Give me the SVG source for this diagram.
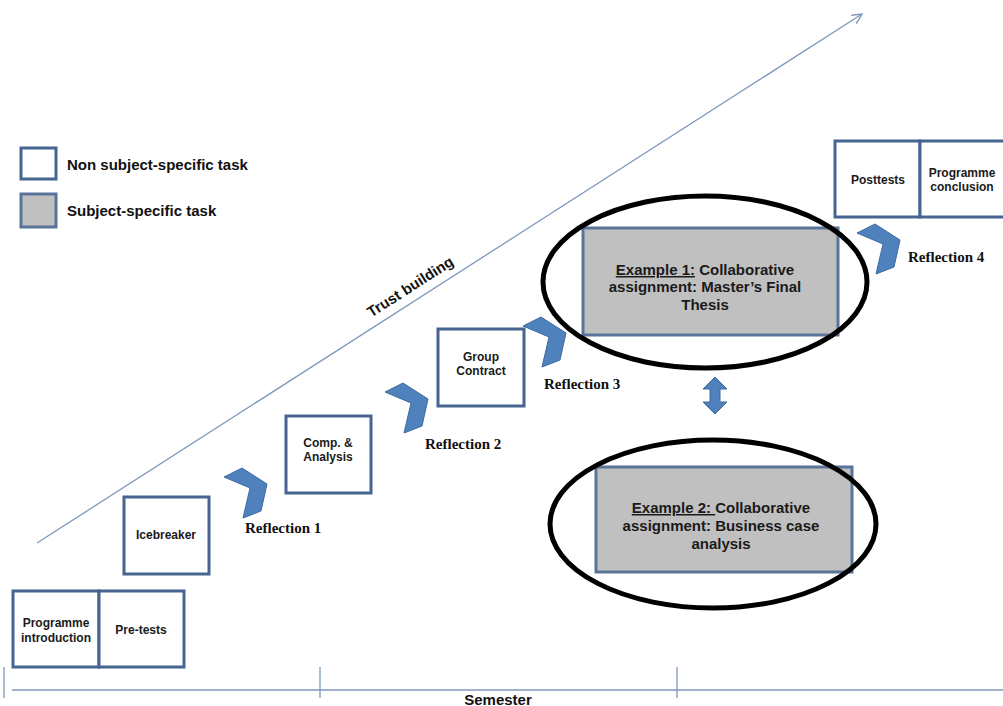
<svg xmlns="http://www.w3.org/2000/svg" width="1003" height="706" viewBox="0 0 1003 706">
<style>
.box{fill:#fff;stroke:#45648f;stroke-width:3}
.gbox{fill:#c0c0c0;stroke:#5a7499;stroke-width:3}
.t{font-family:"Liberation Sans",Arial,sans-serif;font-weight:bold;font-size:12px;fill:#1a1a1a;text-anchor:middle}
.lg{font-family:"Liberation Sans",Arial,sans-serif;font-weight:bold;font-size:15px;fill:#111}
.ex{font-family:"Liberation Sans",Arial,sans-serif;font-weight:bold;font-size:15px;fill:#1a1a1a;text-anchor:middle}
.rf{font-family:"Liberation Serif","Times New Roman",serif;font-weight:bold;font-size:15px;fill:#111}
.ln{stroke:#7e98b9;stroke-width:1.3;fill:none}
.chev{fill:#4f81bd;stroke:#3d6aa0;stroke-width:1}
.ell{fill:none;stroke:#000;stroke-width:5}
</style>
<defs>
<polygon id="chev" points="0,9 18,0 43,16 37,43 19,50 26,20"/>
<marker id="open" markerWidth="14" markerHeight="14" refX="10" refY="5" orient="auto" markerUnits="userSpaceOnUse">
<path d="M0,0 L10,5 L0,10" fill="none" stroke="#7e98b9" stroke-width="1.4"/>
</marker>
</defs>
<rect width="1003" height="706" fill="#fff"/>

<g id="connectors">
<line class="ln" x1="37" y1="543" x2="862" y2="14" marker-end="url(#open)"/>
<g id="timeline">
<line class="ln" x1="12" y1="690" x2="1003" y2="690"/>
<line class="ln" x1="4" y1="667" x2="4" y2="698"/>
<line class="ln" x1="320" y1="667" x2="320" y2="698"/>
<line class="ln" x1="677" y1="667" x2="677" y2="698"/>
</g>
<use href="#chev" class="chev" transform="translate(224,468)"/>
<use href="#chev" class="chev" transform="translate(385,383)"/>
<use href="#chev" class="chev" transform="translate(523,317)"/>
<use href="#chev" class="chev" transform="translate(857,224)"/>
<polygon class="chev" points="715,377 727,389 720,389 720,402 727,402 715,414 703,402 710,402 710,389 703,389"/>
</g>

<text class="lg" x="498" y="705" text-anchor="middle">Semester</text>
<text class="lg" font-size="14" transform="translate(413,291) rotate(-32.6)" text-anchor="middle">Trust building</text>

<g id="legend">
<rect class="box" x="21" y="148" width="35" height="31"/>
<text class="lg" x="67" y="170">Non subject-specific task</text>
<rect class="gbox" x="21" y="194" width="35" height="33"/>
<text class="lg" x="67" y="216">Subject-specific task</text>
</g>

<g id="prog-intro">
<rect class="box" x="13" y="591" width="86" height="76"/>
<text class="t" x="56" y="627">Programme</text>
<text class="t" x="56" y="642">introduction</text>
</g>
<g id="pretests">
<rect class="box" x="99" y="591" width="85" height="76"/>
<text class="t" x="141" y="634">Pre-tests</text>
</g>
<g id="icebreaker">
<rect class="box" x="124" y="497" width="85" height="77"/>
<text class="t" x="166" y="539">Icebreaker</text>
</g>
<g id="comp">
<rect class="box" x="286" y="416" width="85" height="77"/>
<text class="t" x="328" y="447">Comp. &amp;</text>
<text class="t" x="328" y="461">Analysis</text>
</g>
<g id="group">
<rect class="box" x="438" y="329" width="86" height="77"/>
<text class="t" x="481" y="361">Group</text>
<text class="t" x="481" y="375">Contract</text>
</g>
<g id="posttests">
<rect class="box" x="835" y="141" width="85" height="76"/>
<text class="t" x="878" y="184">Posttests</text>
</g>
<g id="prog-concl">
<rect class="box" x="920" y="141" width="90" height="76"/>
<text class="t" x="962" y="177">Programme</text>
<text class="t" x="962" y="191">conclusion</text>
</g>

<g id="example1">
<rect class="gbox" x="583" y="228" width="255" height="107"/>
<text class="ex" x="705" y="275"><tspan text-decoration="underline">Example 1:</tspan> Collaborative</text>
<text class="ex" x="705" y="292">assignment: Master’s Final</text>
<text class="ex" x="705" y="310">Thesis</text>
<ellipse class="ell" cx="705" cy="282" rx="162" ry="86"/>
</g>
<g id="example2">
<rect class="gbox" x="596" y="467" width="256" height="105"/>
<text class="ex" x="721" y="513"><tspan text-decoration="underline">Example 2: </tspan>Collaborative</text>
<text class="ex" x="721" y="531">assignment: Business case</text>
<text class="ex" x="721" y="549">analysis</text>
<ellipse class="ell" cx="713" cy="524" rx="163" ry="84"/>
</g>

<g id="reflections">
<text class="rf" x="245" y="533">Reflection 1</text>
<text class="rf" x="425" y="449">Reflection 2</text>
<text class="rf" x="544" y="389">Reflection 3</text>
<text class="rf" x="908" y="262">Reflection 4</text>
</g>
</svg>
